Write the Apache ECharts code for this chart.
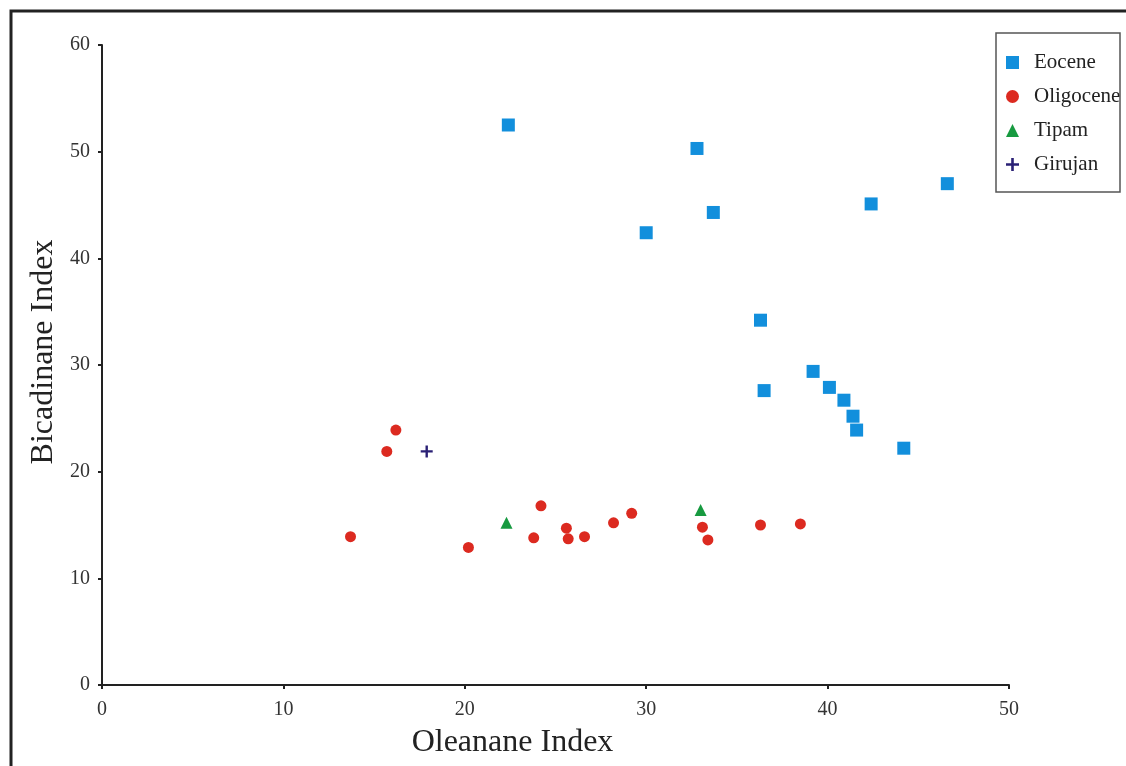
<!DOCTYPE html>
<html>
<head>
<meta charset="utf-8">
<script src="https://cdn.jsdelivr.net/npm/echarts@6/dist/echarts.min.js"></script>
<style>
html,body{margin:0;padding:0;background:#fff;}
#chart{width:1126px;height:766px;}
</style>
</head>
<body>
<div id="chart"></div>
<script>
const eocene = [
  [22.4, 52.5], [32.8, 50.3], [30.0, 42.4], [33.7, 44.3], [42.4, 45.1], [46.6, 47.0],
  [36.3, 34.2], [36.5, 27.6], [39.2, 29.4], [40.1, 27.9], [40.9, 26.7], [41.4, 25.2],
  [41.6, 23.9], [44.2, 22.2]
];
const oligocene = [
  [13.7, 13.9], [15.7, 21.9], [16.2, 23.9], [20.2, 12.9], [23.8, 13.8], [24.2, 16.8],
  [25.6, 14.7], [25.7, 13.7], [26.6, 13.9], [28.2, 15.2], [29.2, 16.1], [33.1, 14.8],
  [33.4, 13.6], [36.3, 15.0], [38.5, 15.1]
];
const tipam = [[22.3, 15.2], [33.0, 16.4]];
const girujan = [[17.9, 21.9]];
const seriesNames = ['Eocene', 'Oligocene', 'Tipam', 'Girujan'];
const xTitle = 'Oleanane Index';
const yTitle = 'Bicadinane Index';

const serif = '"Liberation Serif", "DejaVu Serif", serif';
const plusPath = 'path://M4,0H6V4H10V6H6V10H4V6H0V4H4Z';

const chart = echarts.init(document.getElementById('chart'), null, {renderer: 'canvas'});
chart.setOption({
  animation: false,
  backgroundColor: '#fff',
  grid: {left: 102, right: 117, top: 45, bottom: 81},
  xAxis: {
    type: 'value', min: 0, max: 50, interval: 10,
    name: xTitle, nameLocation: 'middle', nameGap: 42,
    nameTextStyle: {fontFamily: serif, fontSize: 32, color: '#222', padding: [0, 86, 0, 0]},
    axisLine: {lineStyle: {color: '#222', width: 2}},
    axisTick: {show: true, length: 4, lineStyle: {color: '#222', width: 2}},
    axisLabel: {fontFamily: serif, fontSize: 20, color: '#333', margin: 15},
    splitLine: {show: false}
  },
  yAxis: {
    type: 'value', min: 0, max: 60, interval: 10,
    name: yTitle, nameLocation: 'middle', nameGap: 39,
    nameTextStyle: {fontFamily: serif, fontSize: 32, color: '#222', padding: [0, 0, 0, 26]},
    axisLine: {show: true, lineStyle: {color: '#222', width: 2}},
    axisTick: {show: true, length: 4, lineStyle: {color: '#222', width: 2}},
    axisLabel: {fontFamily: serif, fontSize: 20, color: '#333', margin: 12},
    splitLine: {show: false}
  },
  legend: {
    orient: 'vertical', left: 1001, top: 47,
    itemWidth: 13, itemHeight: 13, itemGap: 13,
    textStyle: {fontFamily: serif, fontSize: 21, color: '#222', padding: [0, 0, 0, 10]},
    data: seriesNames
  },
  graphic: [
    {type: 'rect', shape: {x: 11, y: 11, width: 1300, height: 900},
     style: {fill: 'none', stroke: '#222', lineWidth: 3}, silent: true, z: 100},
    {type: 'rect', shape: {x: 996, y: 33, width: 124, height: 159},
     style: {fill: 'none', stroke: '#555', lineWidth: 1.5}, silent: true, z: 100}
  ],
  series: [
    {name: seriesNames[0], type: 'scatter', data: eocene, symbol: 'rect', symbolSize: 13,
     itemStyle: {color: '#128fdc', opacity: 1}},
    {name: seriesNames[1], type: 'scatter', data: oligocene, symbol: 'circle', symbolSize: 11,
     itemStyle: {color: '#dc2a20', opacity: 1}},
    {name: seriesNames[2], type: 'scatter', data: tipam, symbol: 'triangle', symbolSize: 12,
     itemStyle: {color: '#179a40', opacity: 1}},
    {name: seriesNames[3], type: 'scatter', data: girujan, symbol: plusPath, symbolSize: 12,
     itemStyle: {color: '#2a2075', opacity: 1}}
  ]
});
</script>
</body>
</html>
